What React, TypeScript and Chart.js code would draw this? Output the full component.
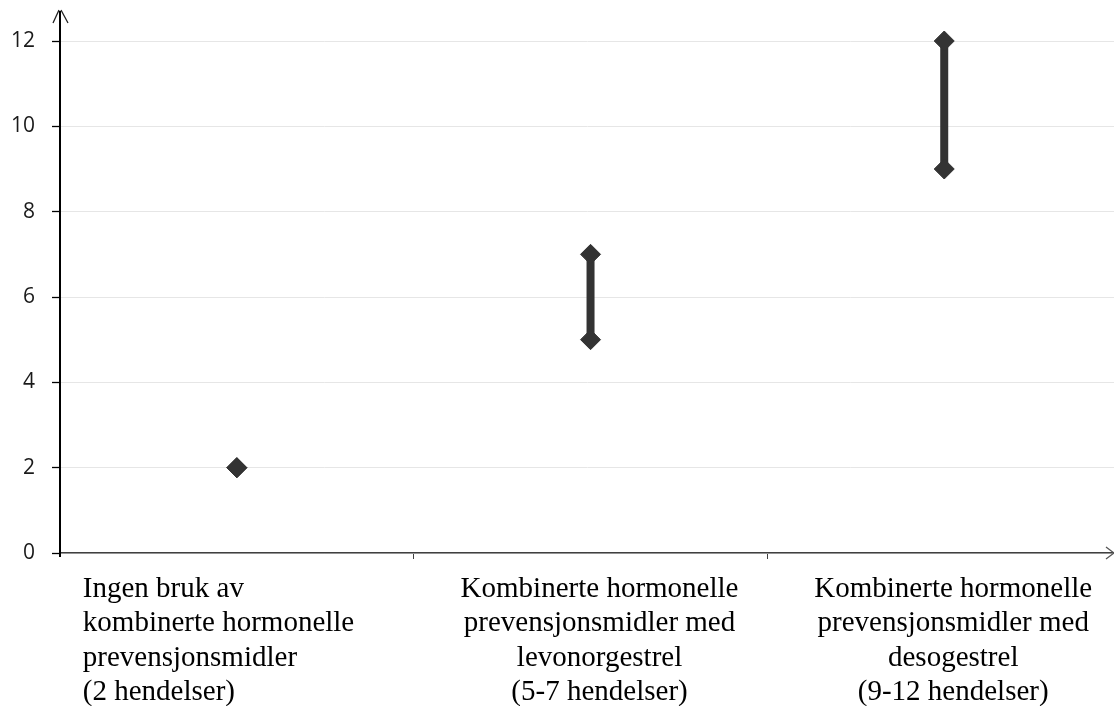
import React, { useEffect, useRef } from "react";
import { Chart, registerables } from "chart.js";

Chart.register(...registerables);

const categoryLabels: string[][] = [
  ["Ingen bruk av", "kombinerte hormonelle", "prevensjonsmidler", "(2 hendelser)"],
  ["Kombinerte hormonelle", "prevensjonsmidler med", "levonorgestrel", "(5-7 hendelser)"],
  ["Kombinerte hormonelle", "prevensjonsmidler med", "desogestrel", "(9-12 hendelser)"],
];
const lowValues = [2, 5, 9];
const highValues = [2, 7, 12];
const yTicks = [0, 2, 4, 6, 8, 10, 12];

const MARK = "#333333";

const decorPlugin = {
  id: "decor",
  afterDraw(chart: any) {
    const { ctx, chartArea, scales } = chart;
    const xs = scales.x;
    ctx.save();
    // y axis extension + arrow
    ctx.strokeStyle = "#000";
    ctx.lineWidth = 2;
    ctx.beginPath();
    ctx.moveTo(chartArea.left, chartArea.bottom + 4);
    ctx.lineTo(chartArea.left, 11);
    ctx.stroke();
    ctx.lineWidth = 1.3;
    ctx.strokeStyle = "#222";
    ctx.beginPath();
    ctx.moveTo(chartArea.left - 7, 23);
    ctx.lineTo(chartArea.left - 1, 10);
    ctx.moveTo(chartArea.left + 1, 10);
    ctx.lineTo(chartArea.left + 8, 23);
    ctx.stroke();
    // x arrow
    ctx.strokeStyle = "#555";
    ctx.lineWidth = 1.3;
    ctx.beginPath();
    ctx.moveTo(chartArea.right - 8, chartArea.bottom - 6);
    ctx.lineTo(chartArea.right, chartArea.bottom);
    ctx.lineTo(chartArea.right - 8, chartArea.bottom + 6);
    ctx.stroke();
    // category labels
    ctx.fillStyle = "#000";
    ctx.font = '29px "Liberation Serif", "Times New Roman", serif';
    ctx.textBaseline = "alphabetic";
    categoryLabels.forEach((lines, i) => {
      const cx = xs.getPixelForValue(i);
      let x: number;
      if (i === 0) {
        ctx.textAlign = "left";
        x = cx - 154;
      } else {
        ctx.textAlign = "center";
        x = cx + 9;
      }
      lines.forEach((line, j) => {
        ctx.fillText(line, x, chartArea.bottom + 44 + j * 34.3);
      });
    });
    ctx.restore();
  },
};

export default function App() {
  const ref = useRef<HTMLCanvasElement | null>(null);
  useEffect(() => {
    if (!ref.current) return;
    const datasets = categoryLabels.map((_, i) => ({
      type: "line" as const,
      label: "c" + i,
      data: [
        { x: i, y: lowValues[i] },
        { x: i, y: highValues[i] },
      ],
      borderColor: MARK,
      backgroundColor: MARK,
      borderWidth: 8,
      pointStyle: "rectRot",
      pointRadius: 10,
      pointBorderWidth: 1,
      pointBackgroundColor: MARK,
      pointBorderColor: MARK,
      clip: false as any,
    }));
    const chart = new Chart(ref.current, {
      type: "line",
      data: { datasets },
      plugins: [decorPlugin],
      options: {
        animation: false,
        responsive: false,
        layout: { autoPadding: false, padding: { top: 41, right: 0, bottom: 0, left: 0 } },
        plugins: { legend: { display: false }, tooltip: { enabled: false } },
        scales: {
          x: {
            type: "linear",
            min: -0.5,
            max: 2.48,
            afterBuildTicks: (s: any) => {
              s.ticks = [{ value: 0.5 }, { value: 1.5 }];
            },
            afterFit: (s: any) => {
              s.height = 153;
            },
            ticks: { display: false },
            grid: {
              drawOnChartArea: false,
              drawTicks: true,
              tickLength: 6,
              tickColor: "#404040",
              color: "#404040",
            },
            border: { display: true, color: "#404040", width: 1.5 },
          },
          y: {
            type: "linear",
            min: 0,
            max: 12,
            afterBuildTicks: (s: any) => {
              s.ticks = yTicks.map((v) => ({ value: v }));
            },
            afterFit: (s: any) => {
              s.width = 60;
            },
            ticks: {
              padding: 17,
              color: "#1a1a1a",
              font: { family: '"Open Sans", sans-serif', size: 21 },
            },
            grid: {
              color: "#e6e6e6",
              lineWidth: 1,
              tickLength: 8,
              tickColor: "#000",
              tickWidth: 1.3,
            },
            border: { display: true, color: "#000", width: 2 },
          },
        },
      },
    });
    return () => chart.destroy();
  }, []);
  return (
    <div style={{ position: "fixed", left: 0, top: 0, width: 1114, height: 706, background: "#fff" }}>
      <canvas ref={ref} width={1114} height={706} style={{ width: 1114, height: 706 }} />
    </div>
  );
}
